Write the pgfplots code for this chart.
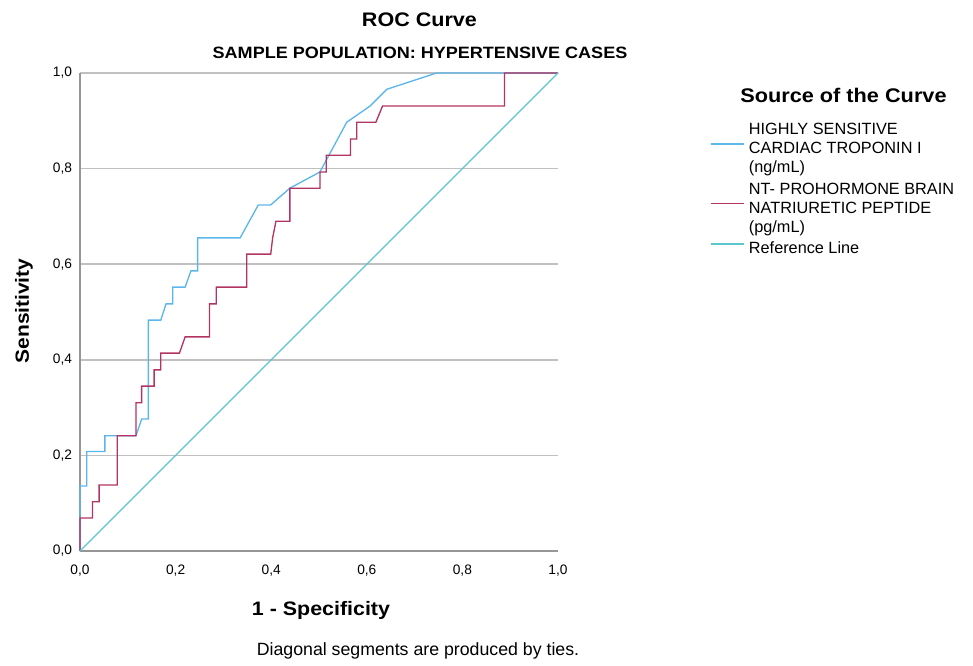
\documentclass[border=0pt]{standalone}
\usepackage{fontspec}
\setmainfont{Liberation Sans}
\newfontfamily\bfw[FakeStretch=1.1]{Liberation Sans Bold}
\usepackage{pgfplots}
\pgfplotsset{compat=1.18}
\definecolor{cblue}{RGB}{92,182,236}
\definecolor{cred}{RGB}{178,52,98}
\definecolor{cteal}{RGB}{92,198,206}
\definecolor{cgrid}{RGB}{192,192,192}
\definecolor{caxis}{RGB}{150,150,150}
\begin{document}
\begin{tikzpicture}
\useasboundingbox (0,0) rectangle (729.75pt,498.75pt);
\begin{axis}[
  at={(60pt,85.5pt)}, anchor=south west,
  scale only axis, width=358.5pt, height=358.5pt,
  xmin=0, xmax=1, ymin=0, ymax=1,
  axis lines*=left,
  axis line style={draw=caxis, line width=1.2pt},
  xtick={0,0.2,0.4,0.6,0.8,1},
  ytick={0,0.2,0.4,0.6,0.8,1},
  major tick length=0pt,
  ymajorgrids,
  grid style={cgrid, line width=1.1pt},
  tick label style={font=\fontsize{10.3}{12}\selectfont},
  /pgf/number format/assume math mode=true,
  /pgf/number format/fixed,
  /pgf/number format/fixed zerofill,
  /pgf/number format/precision=1,
  /pgf/number format/use comma,
  xticklabel style={yshift=-7pt},
  yticklabel style={xshift=-2.5pt},
  clip=false,
  legend style={at={(1.318,0.898)}, anchor=north west, draw=none, fill=none,
    inner sep=0pt, column sep=2pt, row sep=0pt,
    font=\fontsize{12.2}{14.25}\selectfont,
    nodes={inner xsep=0.8pt, inner ysep=0pt, text height=9.5pt, text depth=4.75pt, anchor=base west}},
  legend image code/.code={\draw[#1, line width=1.2pt] (0pt,7.4pt) -- (25pt,7.4pt);},
]
\addplot[cblue, line width=1pt, forget plot] coordinates {
(0,0) (0,0.136) (0.014,0.136) (0.014,0.208) (0.052,0.208) (0.052,0.241)
(0.117,0.241) (0.129,0.276) (0.143,0.276) (0.143,0.483) (0.169,0.483)
(0.180,0.517) (0.194,0.517) (0.194,0.552) (0.220,0.552) (0.232,0.586)
(0.246,0.586) (0.246,0.655) (0.335,0.655) (0.373,0.724) (0.399,0.724)
(0.439,0.759) (0.502,0.793) (0.558,0.897) (0.607,0.931) (0.642,0.966)
(0.746,1.0) (1,1)};
\addplot[cred, line width=1pt, forget plot] coordinates {
(0,0) (0,0.069) (0.026,0.069) (0.026,0.103) (0.040,0.103) (0.040,0.138)
(0.078,0.138) (0.078,0.241) (0.117,0.241) (0.117,0.310) (0.129,0.310)
(0.129,0.345) (0.155,0.345) (0.155,0.379) (0.169,0.379) (0.169,0.414)
(0.208,0.414) (0.220,0.448) (0.271,0.448) (0.271,0.517) (0.285,0.517)
(0.285,0.552) (0.349,0.552) (0.349,0.621) (0.399,0.621) (0.403,0.655)
(0.410,0.690) (0.439,0.690) (0.439,0.759) (0.502,0.759) (0.502,0.793)
(0.515,0.793) (0.515,0.828) (0.566,0.828) (0.566,0.862) (0.579,0.862)
(0.579,0.897) (0.619,0.897) (0.633,0.931) (0.888,0.931) (0.888,1) (1,1)};
\addplot[cteal, line width=1pt, forget plot] coordinates {(0,0) (1,1)};
\addlegendimage{empty legend}
\addlegendentry{HIGHLY SENSITIVE}
\addlegendimage{cblue}
\addlegendentry{CARDIAC TROPONIN I}
\addlegendimage{empty legend}
\addlegendentry[text depth=6.7pt]{(ng/mL)}
\addlegendimage{empty legend}
\addlegendentry{NT- PROHORMONE BRAIN}
\addlegendimage{cred}
\addlegendentry{NATRIURETIC PEPTIDE}
\addlegendimage{empty legend}
\addlegendentry[text depth=6.7pt]{(pg/mL)}
\addlegendimage{cteal}
\addlegendentry{Reference Line}
\end{axis}
\node[font=\bfw\fontsize{14.7}{17}\selectfont] at (314.6pt,483.75pt) {ROC Curve};
\node[font=\bfw\fontsize{12.3}{14}\selectfont] at (315pt,459.2pt) {SAMPLE POPULATION: HYPERTENSIVE CASES};
\node[font=\bfw\fontsize{14.6}{17}\selectfont] at (240.75pt,41.25pt) {1 - Specificity};
\node[font=\bfw\fontsize{14.3}{17}\selectfont, rotate=90] at (18pt,265.5pt) {Sensitivity};
\node[font=\bfw\fontsize{14.8}{17}\selectfont] at (632.6pt,427.5pt) {Source of the Curve};
\node[font=\fontsize{13.3}{15}\selectfont] at (313.5pt,10.5pt) {Diagonal segments are produced by ties.};
\end{tikzpicture}
\end{document}
